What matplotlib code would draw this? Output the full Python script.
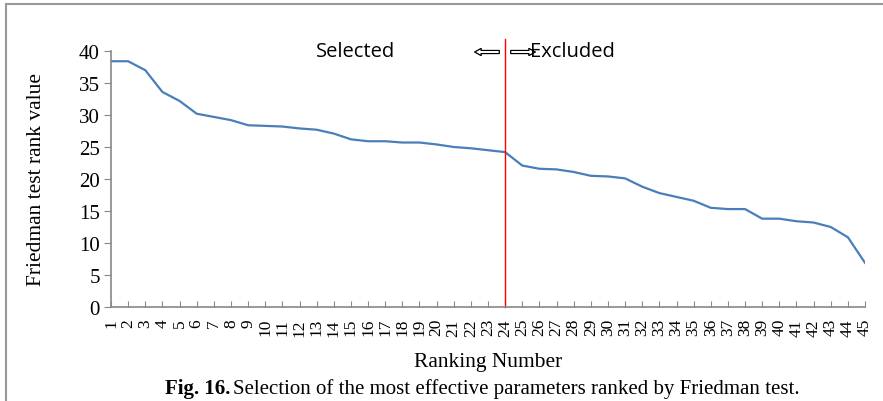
import numpy as np
import matplotlib.pyplot as plt
from matplotlib.patches import Rectangle

# ranking number and Friedman test rank values
rank = np.arange(1, 46)
values = [38.4, 38.4, 37.0, 33.6, 32.2, 30.2, 29.7, 29.2, 28.4, 28.3,
          28.2, 27.9, 27.7, 27.1, 26.2, 25.9, 25.9, 25.7, 25.7, 25.4,
          25.0, 24.8, 24.5, 24.2, 22.1, 21.6, 21.5, 21.1, 20.5, 20.4,
          20.1, 18.8, 17.8, 17.2, 16.6, 15.5, 15.3, 15.3, 13.8, 13.8,
          13.4, 13.2, 12.5, 10.9, 6.9]
cutoff = 24

serif = ['Liberation Serif', 'DejaVu Serif']
sans = ['Open Sans', 'DejaVu Sans']

fig = plt.figure(figsize=(8.83, 4.02), dpi=100)
ax = fig.add_axes([111/883, 94/402, 754/883, 256/402])

ax.plot(rank, values, color='#4a7ebb', lw=1.6)
ax.axvline(cutoff, ymin=0, ymax=(308-40)/256, color='red', lw=1, clip_on=False)

ax.set_xlim(1, 45)
ax.set_ylim(0, 40)
ax.set_xticks(rank)
ax.set_xticklabels([str(r) for r in rank], rotation=90, family=serif, fontsize=12.5)
ax.set_yticks(range(0, 41, 5))
ax.set_yticklabels([str(v) for v in range(0, 41, 5)], family=serif, fontsize=15)
ax.tick_params(axis='x', direction='in', length=4, color='#888888', pad=8)
ax.tick_params(axis='y', direction='out', length=5, color='#888888', pad=3)
for s in ['top', 'right']:
    ax.spines[s].set_visible(False)
for s in ['left', 'bottom']:
    ax.spines[s].set_color('#888888')
    ax.spines[s].set_linewidth(1.2)

ax.set_ylabel('Friedman test rank value', family=serif, fontsize=15.5, labelpad=24)
ax.set_xlabel('Ranking Number', family=serif, fontsize=15.5, labelpad=12)

# annotations at the top
fig.text(356/883, 1 - 52/402, 'Selected', family=sans, fontsize=14.5, ha='center', va='center')
fig.text(572/883, 1 - 52/402, 'Excluded', family=sans, fontsize=14.5, ha='center', va='center')
arrow = dict(arrowstyle='simple,head_length=0.45,head_width=0.5,tail_width=0.22',
             fc='white', ec='black', lw=0.8)
fig.add_artist(plt.annotate('', xy=(472/883, 1 - 53/402), xytext=(502/883, 1 - 53/402),
                            xycoords='figure fraction', arrowprops=arrow))
fig.add_artist(plt.annotate('', xy=(538/883, 1 - 53/402), xytext=(508/883, 1 - 53/402),
                            xycoords='figure fraction', arrowprops=arrow))

# caption
fig.text(165/883, 1 - 389/402, 'Fig. 16.', family=serif, fontweight='bold',
         fontsize=15, ha='left', va='center')
fig.text(233/883, 1 - 389/402, 'Selection of the most effective parameters ranked by Friedman test.',
         family=serif, fontsize=15, ha='left', va='center')

# gray frame
fig.add_artist(Rectangle((6/883, -0.05), 1.2, 1 - 5/402 + 0.05, transform=fig.transFigure,
                         fill=False, ec='#999999', lw=1.5))

fig.savefig('out.png', dpi=100)
